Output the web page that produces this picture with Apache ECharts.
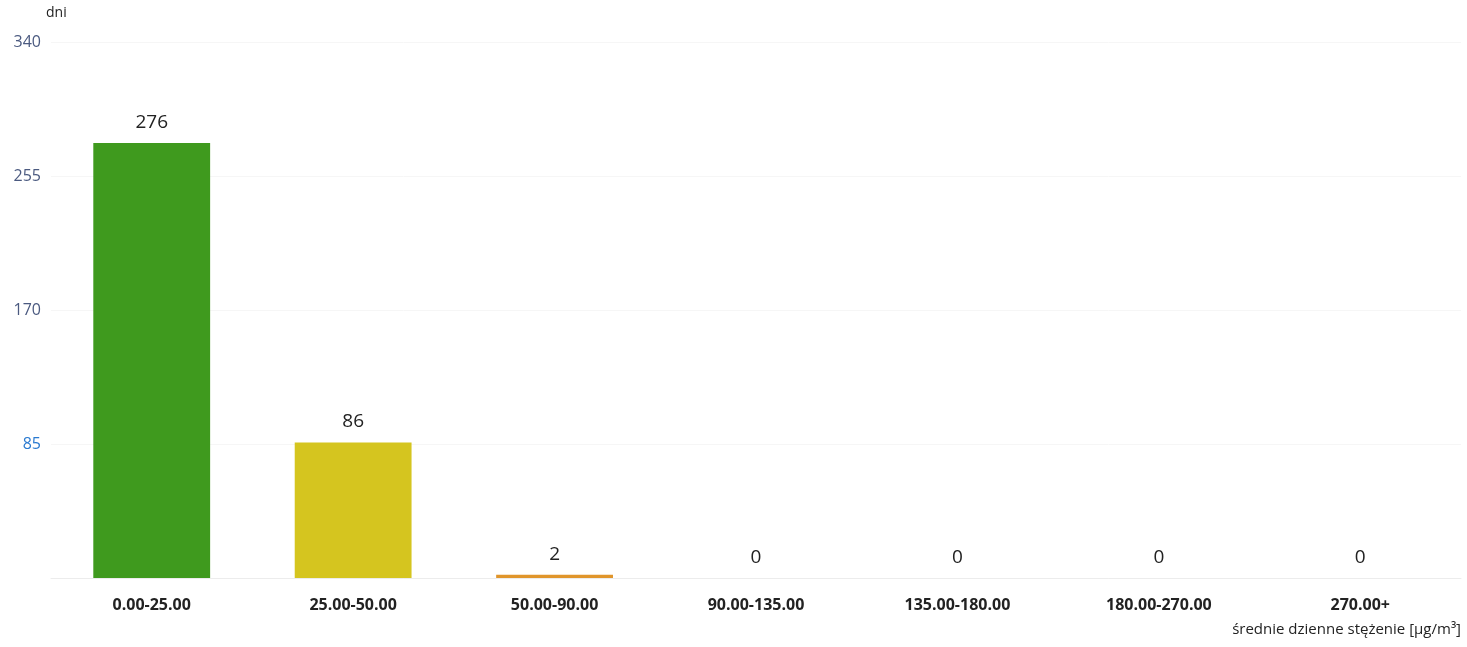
<!DOCTYPE html>
<html><head><meta charset="utf-8">
<script src="https://cdn.jsdelivr.net/npm/echarts@6/dist/echarts.min.js"></script>
<style>html,body{margin:0;padding:0;background:#fff}#c{width:1467px;height:647px}</style>
</head><body><div id="c"></div>
<script>
const categories = ['0.00-25.00','25.00-50.00','50.00-90.00','90.00-135.00','135.00-180.00','180.00-270.00','270.00+'];
const values = [276, 86, 2, 0, 0, 0, 0];
const barColors = ['#3f9a1e','#d5c51f','#e0952b','#e23a2a','#b51f2e','#7a1a3a','#7a1a3a'];
const yTicks = [0, 85, 170, 255, 340];
const yName = 'dni';
const xName = 'średnie dzienne stężenie [µg/m³]';

const chart = echarts.init(document.getElementById('c'));
chart.setOption({
  animation: false,
  grid: {left: 51, right: 6, top: 42, bottom: 69},
  xAxis: {
    type: 'category', data: categories,
    name: xName, nameLocation: 'end',
    nameGap: 0,
    nameTextStyle: {color: '#222', fontSize: 15, fontFamily: 'Open Sans', align: 'right', verticalAlign: 'top', padding: [44, 0, 0, 0]},
    axisLine: {lineStyle: {color: '#ececec'}},
    axisTick: {show: false},
    axisLabel: {color: '#222', fontSize: 16, fontWeight: 'bold', fontFamily: 'Open Sans', margin: 19}
  },
  yAxis: {
    type: 'value', min: 0, max: yTicks[yTicks.length-1], interval: yTicks[1]-yTicks[0],
    name: yName, nameLocation: 'end', nameGap: 22,
    nameTextStyle: {color: '#222', fontSize: 14, fontFamily: 'Open Sans', align: 'left', padding: [0, 0, 0, -5]},
    axisLine: {show: false}, axisTick: {show: false},
    splitLine: {lineStyle: {color: '#f6f6f6'}},
    axisLabel: {
      margin: 10, fontSize: 16, fontFamily: 'Open Sans', align: 'right',
      formatter: v => v === 0 ? '' : (v === 85 ? '{b|' + v + '}' : '{a|' + v + '}'),
      rich: {a: {color: '#4b5a80', fontSize: 16, fontFamily: 'Open Sans'}, b: {color: '#2a7ad0', fontSize: 16, fontFamily: 'Open Sans'}}
    }
  },
  series: [{
    type: 'bar', barWidth: '58%',
    data: values.map((v, i) => ({value: v, itemStyle: {color: barColors[i]}})),
    label: {show: true, position: 'top', distance: 11, color: '#222', fontSize: 19, fontFamily: 'Open Sans'}
  }]
});
</script></body></html>
